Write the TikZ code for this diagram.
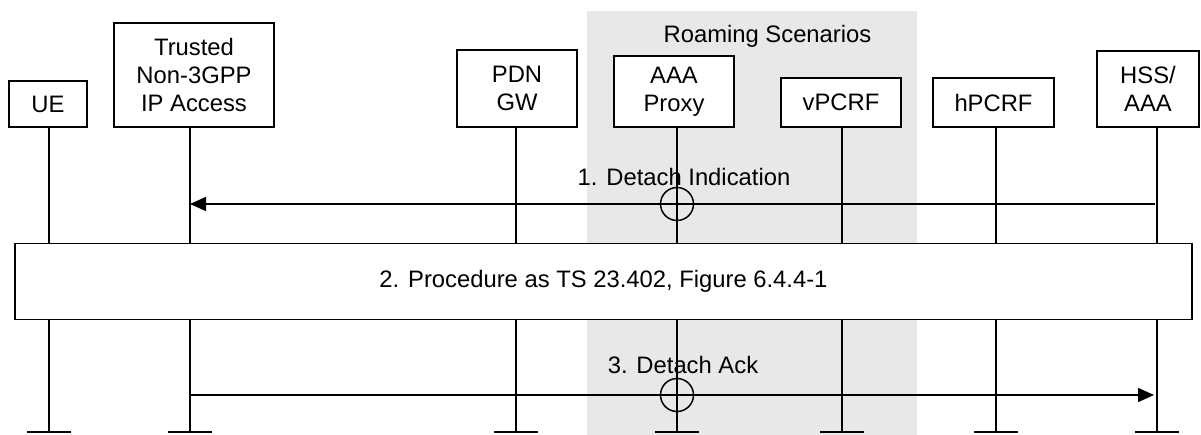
\documentclass[tikz,border=0pt]{standalone}
\usepackage{fontspec}
\setmainfont{Liberation Sans}
\usetikzlibrary{arrows.meta}
\definecolor{roam}{RGB}{232,232,232}
\begin{document}
\begin{tikzpicture}[x=1pt,y=-1pt,
  ent/.style={draw,line width=1.5pt,fill=white,inner sep=0pt,align=center,
              font=\fontsize{23.8}{28}\selectfont},
  life/.style={line width=1.5pt},
  msg/.style={line width=1.5pt,-{Triangle[length=16pt,width=14pt]}},
  lbl/.style={font=\fontsize{23.8}{28}\selectfont,inner sep=0pt,anchor=base},
  cross/.style={draw,circle,line width=1.5pt,minimum size=33pt,inner sep=0pt}]
\useasboundingbox (0,0) rectangle (1201,435);
% roaming area
\fill[roam] (587,11) rectangle (917,435);
\node[lbl] (roamlbl) at (767.5,43) {Roaming Scenarios};
% entities
\node[ent,minimum width=78pt,minimum height=46pt] (ue) at (48,104) {UE};
\node[ent,minimum width=160pt,minimum height=104pt] (tr) at (194,75) {Trusted\\Non-3GPP\\IP Access};
\node[ent,minimum width=120pt,minimum height=77pt] (pdn) at (517,88.5) {PDN\\GW};
\node[ent,minimum width=120pt,minimum height=71pt] (aaa) at (674,91.5) {AAA\\Proxy};
\node[ent,minimum width=120pt,minimum height=49pt] (vp) at (841,102.5) {vPCRF};
\node[ent,minimum width=121pt,minimum height=49pt] (hp) at (993.5,102.5) {hPCRF};
\node[ent,minimum width=102pt,minimum height=76pt] (hss) at (1148,89) {HSS/\\AAA};
% lifeline ends
\coordinate (ue-b) at (49,432);
\coordinate (tr-b) at (190,432);
\coordinate (pdn-b) at (516,432);
\coordinate (aaa-b) at (677,432);
\coordinate (vp-b) at (842,432);
\coordinate (hp-b) at (996,432);
\coordinate (hss-b) at (1157,432);
\foreach \n in {ue,tr,pdn,aaa,vp,hp,hss}{
  \draw[life] (\n.south -| \n-b) -- (\n-b);
  \draw[life] ([xshift=-22pt]\n-b) -- ([xshift=22pt]\n-b);
}
% message 1
\coordinate (m1s) at (1155,204);
\coordinate (m1e) at (190,204);
\draw[msg] (m1s) -- (m1e);
\node[cross] (c1) at (677,204) {};
\node[lbl] (l1) at (684,186) {1. Detach Indication};
% procedure box
\node[ent,minimum width=1177pt,minimum height=76pt] (proc) at (603.5,281.5) {2. Procedure as TS 23.402, Figure 6.4.4-1};
% message 3
\coordinate (m3s) at (190,395);
\coordinate (m3e) at (1154,395);
\draw[msg] (m3s) -- (m3e);
\node[cross] (c3) at (677,395) {};
\node[lbl] (l3) at (683,373) {3. Detach Ack};
\end{tikzpicture}
\end{document}
